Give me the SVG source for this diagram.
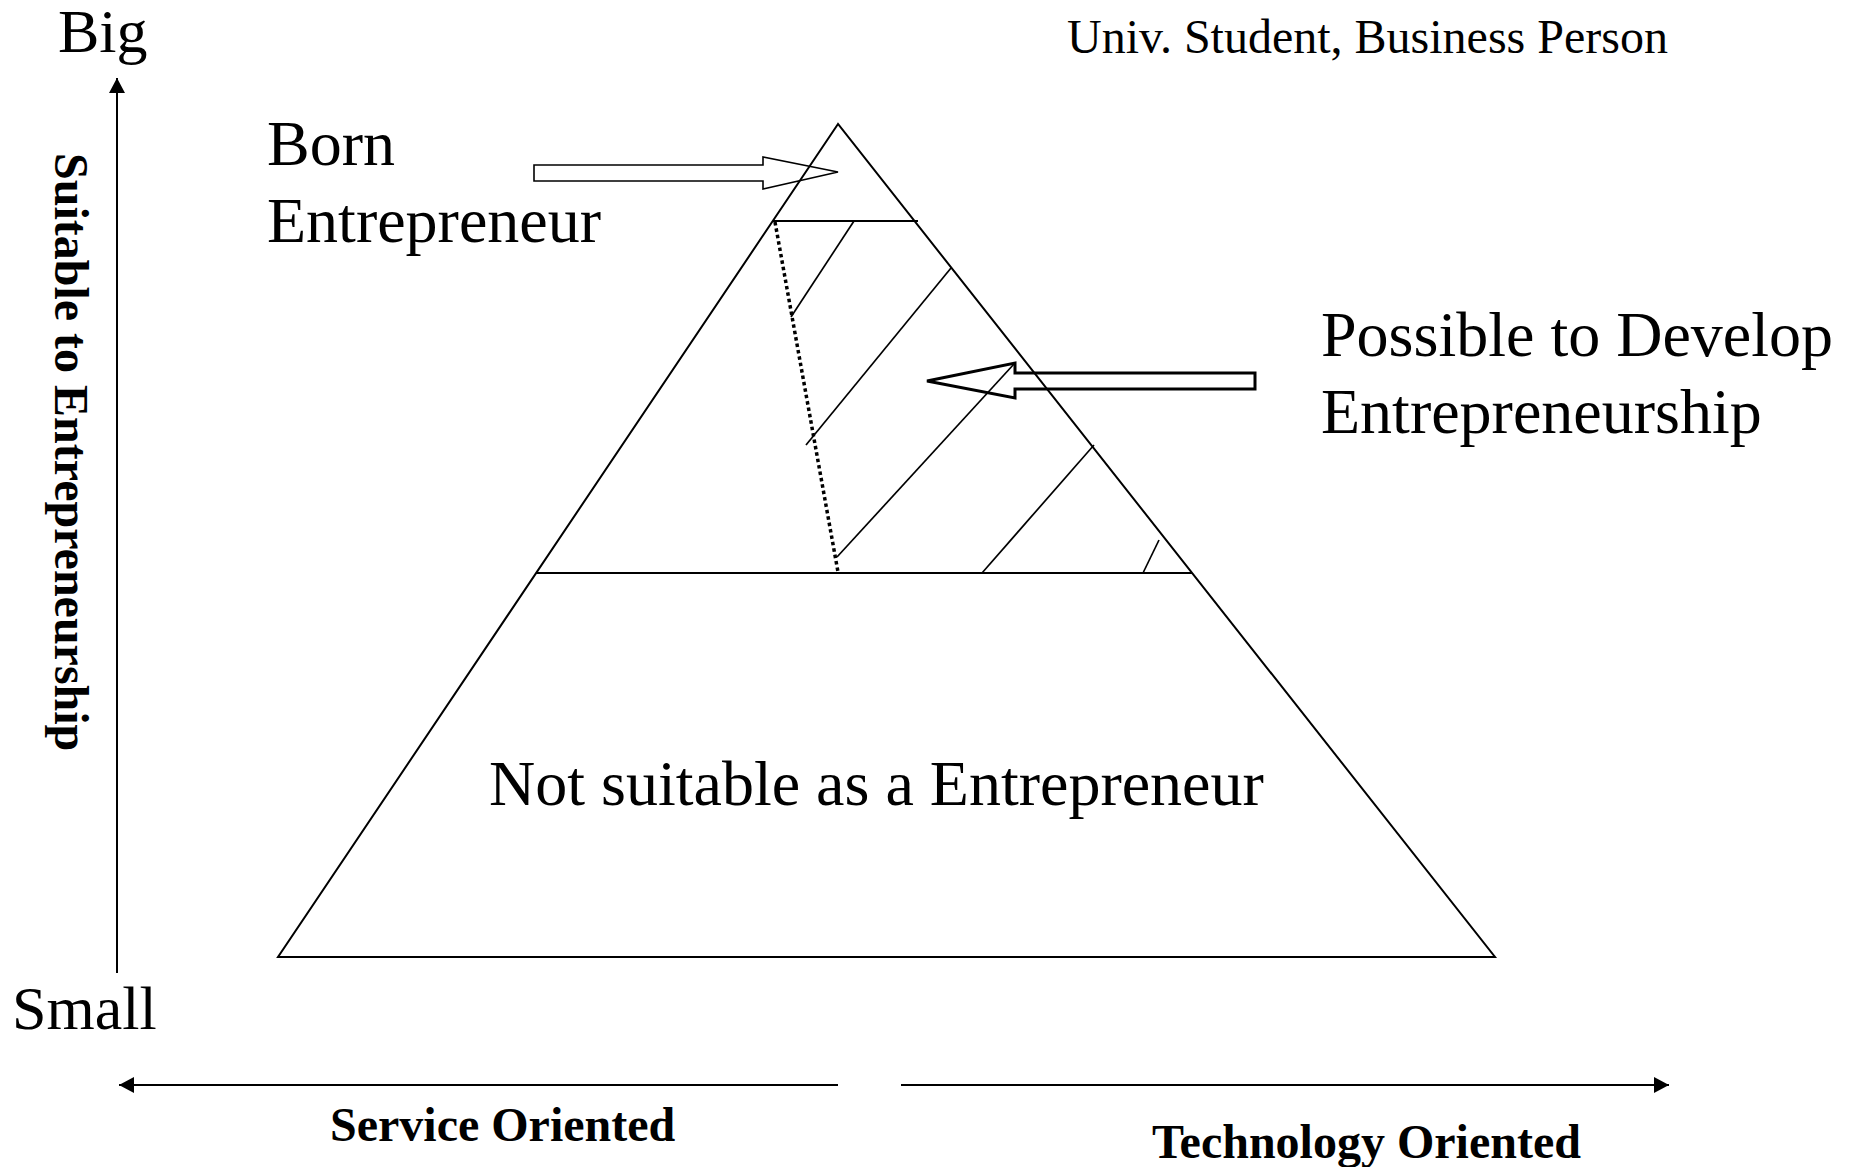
<svg xmlns="http://www.w3.org/2000/svg" width="1849" height="1167" viewBox="0 0 1849 1167">
<style>
.t{font-family:"Liberation Serif","Times New Roman",serif;fill:#000}
.b{font-weight:bold}
.ln{stroke:#000;stroke-width:2;fill:none}
.h{stroke:#000;stroke-width:1.7;fill:none}
.ax{stroke:#000;stroke-width:2;fill:none}
</style>
<defs>
<marker id="ah" markerUnits="userSpaceOnUse" markerWidth="16" markerHeight="16" refX="15" refY="8" orient="auto">
<path d="M0,0 L15,8 L0,16 Z" fill="#000"/>
</marker>
</defs>
<rect width="1849" height="1167" fill="#fff"/>
<g id="axes">
<line class="ax" x1="117" y1="973" x2="117" y2="78" marker-end="url(#ah)"/>
<line class="ax" x1="838" y1="1085" x2="119" y2="1085" marker-end="url(#ah)"/>
<line class="ax" x1="901" y1="1085" x2="1669" y2="1085" marker-end="url(#ah)"/>
</g>
<g id="pyramid">
<polygon class="ln" points="838,124 278,957 1495,957"/>
<line class="ln" x1="773" y1="221" x2="918" y2="221"/>
<line class="ln" x1="536" y1="573" x2="1192" y2="573"/>
</g>
<g id="hatching">
<line class="h" x1="854" y1="221" x2="791" y2="317"/>
<line class="h" x1="951" y1="268" x2="806" y2="445"/>
<line class="h" x1="1014" y1="364" x2="837" y2="557"/>
<line class="h" x1="1094" y1="445" x2="982" y2="573"/>
<line class="h" x1="1159" y1="540" x2="1143" y2="573"/>
<line x1="775" y1="222" x2="838" y2="572" stroke="#000" stroke-width="3.5" stroke-dasharray="3.5 3"/>
</g>
<g id="connectors">
<polygon points="534,165 763,165 763,157 838,172 763,189 763,181 534,181" fill="none" stroke="#000" stroke-width="1.6"/>
<polygon points="1255,373 1015,373 1015,363 927,381 1015,398 1015,389 1255,389" fill="none" stroke="#000" stroke-width="3"/>
</g>
<g id="labels">
<text class="t" x="58" y="52" font-size="62">Big</text>
<text class="t" x="12" y="1029" font-size="62">Small</text>
<text class="t" x="1067" y="53" font-size="48">Univ. Student, Business Person</text>
<text class="t" x="267" y="165" font-size="64">Born</text>
<text class="t" x="267" y="242" font-size="64">Entrepreneur</text>
<text class="t" x="1321" y="356" font-size="64">Possible to Develop</text>
<text class="t" x="1321" y="433" font-size="64">Entrepreneurship</text>
<text class="t" x="489" y="805" font-size="64">Not suitable as a Entrepreneur</text>
<text class="t b" x="330" y="1141" font-size="48">Service Oriented</text>
<text class="t b" x="1152" y="1158" font-size="48">Technology Oriented</text>
<text class="t b" font-size="48" transform="translate(55,153) rotate(90)">Suitable to Entrepreneurship</text>
</g>
</svg>
